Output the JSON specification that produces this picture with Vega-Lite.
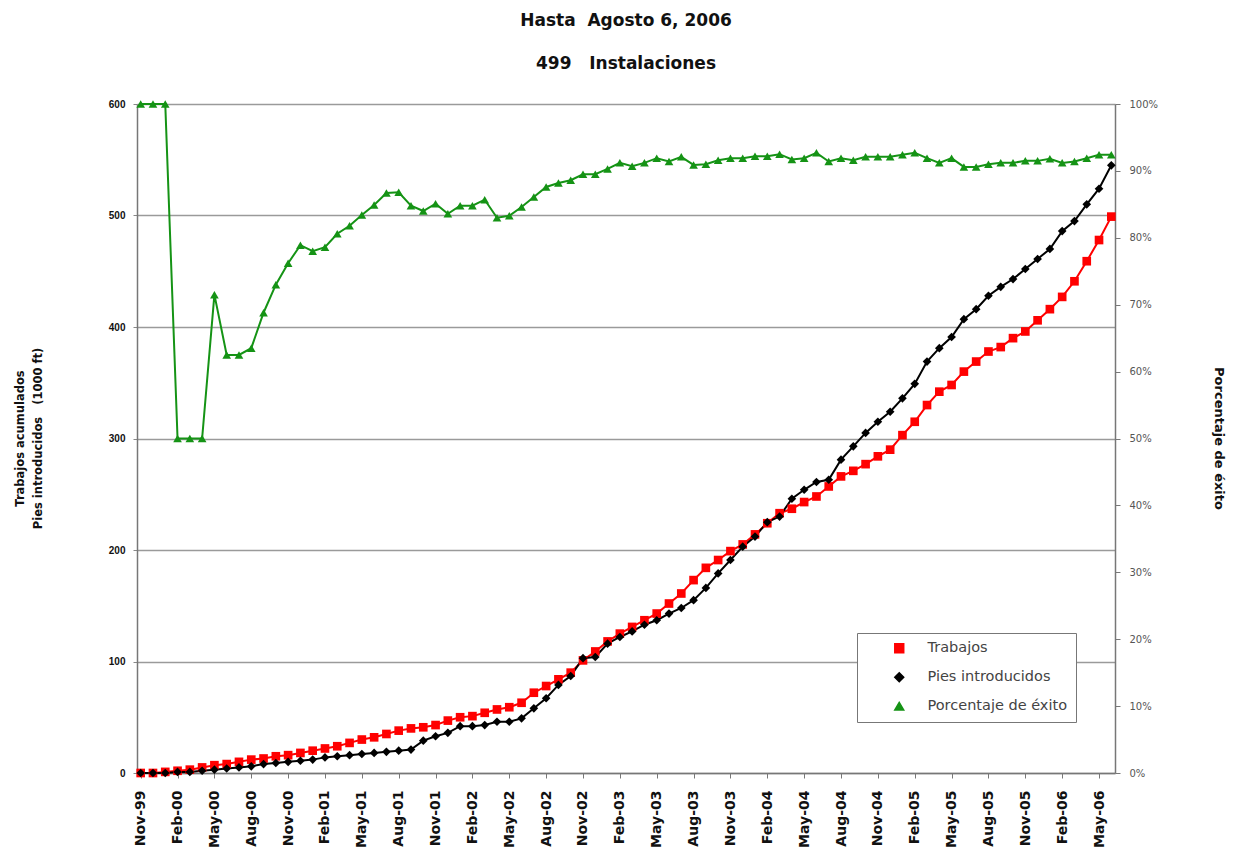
{
  "$schema": "https://vega.github.io/schema/vega-lite/v6.json",
  "width": 978,
  "height": 669,
  "autosize": {"type": "none"},
  "padding": {"left": 137, "top": 104, "right": 119, "bottom": 92},
  "background": "white",
  "title": {
    "text": ["Hasta\u00a0 Agosto 6, 2006", "499\u00a0\u00a0 Instalaciones"],
    "font": "DejaVu Sans",
    "fontSize": 17,
    "fontWeight": "bold",
    "color": "#111111",
    "lineHeight": 43,
    "offset": 26,
    "anchor": "middle"
  },
  "config": {
    "font": "DejaVu Sans",
    "view": {"stroke": null},
    "legend": {
      "orient": "none",
      "legendX": 720,
      "legendY": 529,
      "strokeColor": "#777777",
      "fillColor": "white",
      "padding": 8,
      "rowPadding": 13,
      "labelFont": "DejaVu Sans",
      "labelFontSize": 14.5,
      "labelColor": "#444444",
      "symbolOffset": 27,
      "labelOffset": 21,
      "symbolSize": 80
    }
  },
  "data": {
    "values": [
      {"mes": "Nov-99", "Trabajos": 0, "Pies introducidos": 0, "Porcentaje de éxito": 100},
      {"mes": "Dec-99", "Trabajos": 0, "Pies introducidos": 0, "Porcentaje de éxito": 100},
      {"mes": "Jan-00", "Trabajos": 1, "Pies introducidos": 0, "Porcentaje de éxito": 100},
      {"mes": "Feb-00", "Trabajos": 2, "Pies introducidos": 1, "Porcentaje de éxito": 50},
      {"mes": "Mar-00", "Trabajos": 3, "Pies introducidos": 1, "Porcentaje de éxito": 50},
      {"mes": "Apr-00", "Trabajos": 5, "Pies introducidos": 2, "Porcentaje de éxito": 50},
      {"mes": "May-00", "Trabajos": 7, "Pies introducidos": 3, "Porcentaje de éxito": 71.5},
      {"mes": "Jun-00", "Trabajos": 8, "Pies introducidos": 4, "Porcentaje de éxito": 62.5},
      {"mes": "Jul-00", "Trabajos": 10, "Pies introducidos": 5, "Porcentaje de éxito": 62.5},
      {"mes": "Aug-00", "Trabajos": 12, "Pies introducidos": 6, "Porcentaje de éxito": 63.5},
      {"mes": "Sep-00", "Trabajos": 13, "Pies introducidos": 8, "Porcentaje de éxito": 68.8},
      {"mes": "Oct-00", "Trabajos": 15, "Pies introducidos": 9, "Porcentaje de éxito": 73},
      {"mes": "Nov-00", "Trabajos": 16, "Pies introducidos": 10, "Porcentaje de éxito": 76.2},
      {"mes": "Dec-00", "Trabajos": 18, "Pies introducidos": 11, "Porcentaje de éxito": 78.9},
      {"mes": "Jan-01", "Trabajos": 20, "Pies introducidos": 12, "Porcentaje de éxito": 78},
      {"mes": "Feb-01", "Trabajos": 22, "Pies introducidos": 14, "Porcentaje de éxito": 78.6},
      {"mes": "Mar-01", "Trabajos": 24, "Pies introducidos": 15, "Porcentaje de éxito": 80.6},
      {"mes": "Apr-01", "Trabajos": 27, "Pies introducidos": 16, "Porcentaje de éxito": 81.8},
      {"mes": "May-01", "Trabajos": 30, "Pies introducidos": 17, "Porcentaje de éxito": 83.4},
      {"mes": "Jun-01", "Trabajos": 32, "Pies introducidos": 18, "Porcentaje de éxito": 84.9},
      {"mes": "Jul-01", "Trabajos": 35, "Pies introducidos": 19, "Porcentaje de éxito": 86.7},
      {"mes": "Aug-01", "Trabajos": 38, "Pies introducidos": 20, "Porcentaje de éxito": 86.8},
      {"mes": "Sep-01", "Trabajos": 40, "Pies introducidos": 21, "Porcentaje de éxito": 84.8},
      {"mes": "Oct-01", "Trabajos": 41, "Pies introducidos": 29, "Porcentaje de éxito": 84},
      {"mes": "Nov-01", "Trabajos": 43, "Pies introducidos": 33, "Porcentaje de éxito": 85.1},
      {"mes": "Dec-01", "Trabajos": 47, "Pies introducidos": 36, "Porcentaje de éxito": 83.6},
      {"mes": "Jan-02", "Trabajos": 50, "Pies introducidos": 42, "Porcentaje de éxito": 84.8},
      {"mes": "Feb-02", "Trabajos": 51, "Pies introducidos": 42, "Porcentaje de éxito": 84.8},
      {"mes": "Mar-02", "Trabajos": 54, "Pies introducidos": 43, "Porcentaje de éxito": 85.7},
      {"mes": "Apr-02", "Trabajos": 57, "Pies introducidos": 46, "Porcentaje de éxito": 83},
      {"mes": "May-02", "Trabajos": 59, "Pies introducidos": 46, "Porcentaje de éxito": 83.3},
      {"mes": "Jun-02", "Trabajos": 63, "Pies introducidos": 49, "Porcentaje de éxito": 84.6},
      {"mes": "Jul-02", "Trabajos": 72, "Pies introducidos": 58, "Porcentaje de éxito": 86.1},
      {"mes": "Aug-02", "Trabajos": 78, "Pies introducidos": 67, "Porcentaje de éxito": 87.6},
      {"mes": "Sep-02", "Trabajos": 84, "Pies introducidos": 79, "Porcentaje de éxito": 88.2},
      {"mes": "Oct-02", "Trabajos": 90, "Pies introducidos": 87, "Porcentaje de éxito": 88.6},
      {"mes": "Nov-02", "Trabajos": 101, "Pies introducidos": 103, "Porcentaje de éxito": 89.5},
      {"mes": "Dec-02", "Trabajos": 109, "Pies introducidos": 104, "Porcentaje de éxito": 89.5},
      {"mes": "Jan-03", "Trabajos": 118, "Pies introducidos": 116, "Porcentaje de éxito": 90.3},
      {"mes": "Feb-03", "Trabajos": 125, "Pies introducidos": 122, "Porcentaje de éxito": 91.2},
      {"mes": "Mar-03", "Trabajos": 131, "Pies introducidos": 127, "Porcentaje de éxito": 90.7},
      {"mes": "Apr-03", "Trabajos": 137, "Pies introducidos": 133, "Porcentaje de éxito": 91.2},
      {"mes": "May-03", "Trabajos": 143, "Pies introducidos": 137, "Porcentaje de éxito": 91.9},
      {"mes": "Jun-03", "Trabajos": 152, "Pies introducidos": 143, "Porcentaje de éxito": 91.4},
      {"mes": "Jul-03", "Trabajos": 161, "Pies introducidos": 148, "Porcentaje de éxito": 92.1},
      {"mes": "Aug-03", "Trabajos": 173, "Pies introducidos": 155, "Porcentaje de éxito": 90.9},
      {"mes": "Sep-03", "Trabajos": 184, "Pies introducidos": 166, "Porcentaje de éxito": 91},
      {"mes": "Oct-03", "Trabajos": 191, "Pies introducidos": 179, "Porcentaje de éxito": 91.6},
      {"mes": "Nov-03", "Trabajos": 199, "Pies introducidos": 191, "Porcentaje de éxito": 91.9},
      {"mes": "Dec-03", "Trabajos": 205, "Pies introducidos": 203, "Porcentaje de éxito": 91.9},
      {"mes": "Jan-04", "Trabajos": 214, "Pies introducidos": 212, "Porcentaje de éxito": 92.2},
      {"mes": "Feb-04", "Trabajos": 224, "Pies introducidos": 225, "Porcentaje de éxito": 92.2},
      {"mes": "Mar-04", "Trabajos": 233, "Pies introducidos": 230, "Porcentaje de éxito": 92.5},
      {"mes": "Apr-04", "Trabajos": 237, "Pies introducidos": 246, "Porcentaje de éxito": 91.7},
      {"mes": "May-04", "Trabajos": 243, "Pies introducidos": 254, "Porcentaje de éxito": 91.9},
      {"mes": "Jun-04", "Trabajos": 248, "Pies introducidos": 261, "Porcentaje de éxito": 92.7},
      {"mes": "Jul-04", "Trabajos": 257, "Pies introducidos": 263, "Porcentaje de éxito": 91.4},
      {"mes": "Aug-04", "Trabajos": 266, "Pies introducidos": 281, "Porcentaje de éxito": 91.9},
      {"mes": "Sep-04", "Trabajos": 271, "Pies introducidos": 293, "Porcentaje de éxito": 91.6},
      {"mes": "Oct-04", "Trabajos": 277, "Pies introducidos": 305, "Porcentaje de éxito": 92.1},
      {"mes": "Nov-04", "Trabajos": 284, "Pies introducidos": 315, "Porcentaje de éxito": 92.1},
      {"mes": "Dec-04", "Trabajos": 290, "Pies introducidos": 324, "Porcentaje de éxito": 92.1},
      {"mes": "Jan-05", "Trabajos": 303, "Pies introducidos": 336, "Porcentaje de éxito": 92.4},
      {"mes": "Feb-05", "Trabajos": 315, "Pies introducidos": 349, "Porcentaje de éxito": 92.7},
      {"mes": "Mar-05", "Trabajos": 330, "Pies introducidos": 369, "Porcentaje de éxito": 91.9},
      {"mes": "Apr-05", "Trabajos": 342, "Pies introducidos": 381, "Porcentaje de éxito": 91.2},
      {"mes": "May-05", "Trabajos": 348, "Pies introducidos": 391, "Porcentaje de éxito": 91.9},
      {"mes": "Jun-05", "Trabajos": 360, "Pies introducidos": 407, "Porcentaje de éxito": 90.6},
      {"mes": "Jul-05", "Trabajos": 369, "Pies introducidos": 416, "Porcentaje de éxito": 90.6},
      {"mes": "Aug-05", "Trabajos": 378, "Pies introducidos": 428, "Porcentaje de éxito": 91},
      {"mes": "Sep-05", "Trabajos": 382, "Pies introducidos": 436, "Porcentaje de éxito": 91.2},
      {"mes": "Oct-05", "Trabajos": 390, "Pies introducidos": 443, "Porcentaje de éxito": 91.2},
      {"mes": "Nov-05", "Trabajos": 396, "Pies introducidos": 452, "Porcentaje de éxito": 91.5},
      {"mes": "Dec-05", "Trabajos": 406, "Pies introducidos": 461, "Porcentaje de éxito": 91.5},
      {"mes": "Jan-06", "Trabajos": 416, "Pies introducidos": 470, "Porcentaje de éxito": 91.8},
      {"mes": "Feb-06", "Trabajos": 427, "Pies introducidos": 486, "Porcentaje de éxito": 91.2},
      {"mes": "Mar-06", "Trabajos": 441, "Pies introducidos": 495, "Porcentaje de éxito": 91.4},
      {"mes": "Apr-06", "Trabajos": 459, "Pies introducidos": 510, "Porcentaje de éxito": 91.9},
      {"mes": "May-06", "Trabajos": 478, "Pies introducidos": 524, "Porcentaje de éxito": 92.4},
      {"mes": "Jun-06", "Trabajos": 499, "Pies introducidos": 545, "Porcentaje de éxito": 92.4}
    ]
  },
  "encoding": {
    "x": {
      "field": "mes",
      "type": "ordinal",
      "sort": null,
      "scale": {"type": "point", "padding": 0.3},
      "axis": {
        "title": null,
        "values": ["Nov-99", "Feb-00", "May-00", "Aug-00", "Nov-00", "Feb-01", "May-01", "Aug-01", "Nov-01", "Feb-02", "May-02", "Aug-02", "Nov-02", "Feb-03", "May-03", "Aug-03", "Nov-03", "Feb-04", "May-04", "Aug-04", "Nov-04", "Feb-05", "May-05", "Aug-05", "Nov-05", "Feb-06", "May-06"],
        "labelAngle": -90,
        "labelFont": "DejaVu Sans",
        "labelFontSize": 14,
        "labelFontWeight": "bold",
        "labelColor": "#111111",
        "labelPadding": 12,
        "tickSize": 5,
        "tickColor": "#777777",
        "domainColor": "#777777",
        "domainWidth": 1.5,
        "grid": false
      }
    },
    "color": {
      "field": "serie",
      "type": "nominal",
      "scale": {
        "domain": ["Trabajos", "Pies introducidos", "Porcentaje de éxito"],
        "range": ["#ff0000", "#000000", "#159315"]
      },
      "legend": {"title": null, "labelExpr": "datum.label + '\u00a0\u00a0\u00a0\u00a0'"}
    }
  },
  "layer": [
    {
      "transform": [{"fold": ["Trabajos", "Pies introducidos"], "as": ["serie", "valor"]}],
      "encoding": {
        "y": {
          "field": "valor",
          "type": "quantitative",
          "scale": {"domain": [0, 600], "nice": false},
          "axis": {
            "orient": "left",
            "values": [0, 100, 200, 300, 400, 500, 600],
            "title": ["Trabajos acumulados", "Pies introducidos\u00a0\u00a0 (1000 ft)"],
            "titleFont": "DejaVu Sans",
            "titleFontSize": 11.5,
            "titleFontWeight": "bold",
            "titleColor": "#111111",
            "titleLineHeight": 18,
            "titleBaseline": "middle",
            "titleX": -117,
            "titleY": 334,
            "labelFont": "Liberation Sans",
            "labelFontSize": 10,
            "labelFontWeight": "bold",
            "labelColor": "#111111",
            "labelPadding": 8,
            "tickSize": 4,
            "tickColor": "#888888",
            "domainColor": "#777777",
            "domainWidth": 1.5,
            "grid": true,
            "gridColor": "#9a9a9a",
            "gridWidth": 1.5
          }
        }
      },
      "layer": [
        {"mark": {"type": "line", "strokeWidth": 2}},
        {
          "mark": {"type": "point", "filled": true, "opacity": 1, "size": 75},
          "encoding": {
            "shape": {
              "field": "serie",
              "type": "nominal",
              "scale": {
                "domain": ["Trabajos", "Pies introducidos", "Porcentaje de éxito"],
                "range": ["square", "diamond", "triangle-up"]
              },
              "legend": {"title": null, "labelExpr": "datum.label + '\u00a0\u00a0\u00a0\u00a0'"}
            }
          }
        }
      ]
    },
    {
      "transform": [{"fold": ["Porcentaje de éxito"], "as": ["serie", "valor"]}],
      "encoding": {
        "y": {
          "field": "valor",
          "type": "quantitative",
          "scale": {"domain": [0, 100], "nice": false},
          "axis": {
            "orient": "right",
            "values": [0, 10, 20, 30, 40, 50, 60, 70, 80, 90, 100],
            "labelExpr": "datum.value + '%'",
            "title": "Porcentaje de éxito",
            "titleAngle": 90,
            "titleBaseline": "middle",
            "titleX": 103,
            "titleY": 334,
            "titleFont": "DejaVu Sans",
            "titleFontSize": 13,
            "titleFontWeight": "bold",
            "titleColor": "#111111",
            "labelFont": "DejaVu Sans",
            "labelFontSize": 10,
            "labelColor": "#555555",
            "labelPadding": 9,
            "tickSize": 5,
            "tickColor": "#777777",
            "domainColor": "#777777",
            "domainWidth": 1.5,
            "grid": false
          }
        }
      },
      "layer": [
        {"mark": {"type": "line", "strokeWidth": 2}},
        {
          "mark": {"type": "point", "filled": true, "opacity": 1, "size": 75},
          "encoding": {
            "shape": {
              "field": "serie",
              "type": "nominal",
              "scale": {
                "domain": ["Trabajos", "Pies introducidos", "Porcentaje de éxito"],
                "range": ["square", "diamond", "triangle-up"]
              },
              "legend": {"title": null, "labelExpr": "datum.label + '\u00a0\u00a0\u00a0\u00a0'"}
            }
          }
        }
      ]
    }
  ],
  "resolve": {"scale": {"y": "independent"}}
}
